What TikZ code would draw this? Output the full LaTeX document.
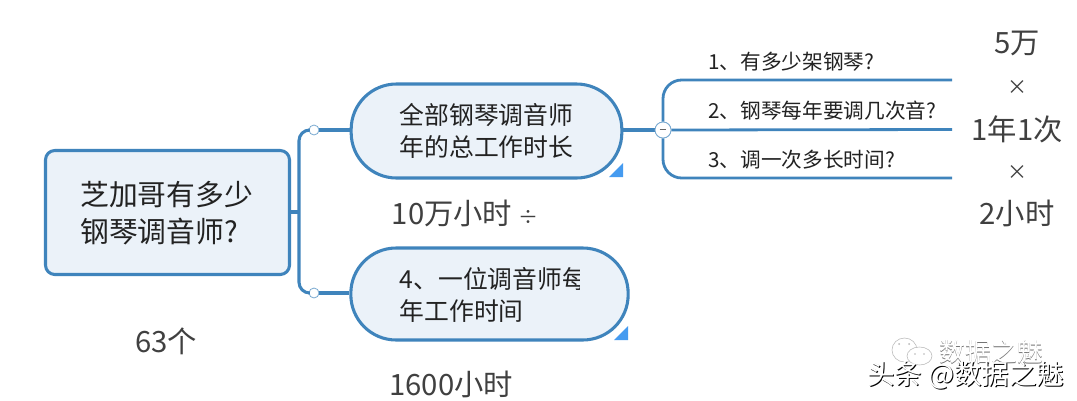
\documentclass[tikz,border=0pt]{standalone}
\usepackage{fontspec}
\setmainfont{Noto Sans CJK SC}
\definecolor{mapline}{HTML}{3F84BC}
\definecolor{mapfill}{HTML}{EBF2F9}
\definecolor{mapmark}{HTML}{459BF0}
\definecolor{maptext}{HTML}{222222}
\definecolor{notetext}{HTML}{404040}
\tikzset{
  px/.style={x=0.75pt,y=-0.75pt},
  rootbox/.style={draw=mapline,fill=mapfill,line width=2.3pt,rounded corners=7pt,minimum width=183pt,minimum height=93pt,inner sep=0pt},
  topicbox/.style={draw=mapline,fill=mapfill,line width=2.3pt,rounded corners=34pt,inner sep=0pt},
  link/.style={draw=mapline,line width=2.3pt},
  leafline/.style={draw=mapline,line width=2.1pt},
  knob/.style={circle,draw=mapline!70,fill=white,line width=0.6pt,minimum size=7.5pt,inner sep=0pt},
  bigknob/.style={circle,draw=mapline!70,fill=white,line width=0.6pt,minimum size=12pt,inner sep=0pt},
  topictext/.style={text=maptext,inner sep=0pt,anchor=west},
  note/.style={text=notetext,inner sep=0pt,font=\fontsize{22}{24}\selectfont},
  timessign/.style={text=notetext,inner sep=0pt,font=\fontsize{15}{16}\selectfont},
  leaf/.style={text=maptext,inner sep=0pt,anchor=west,font=\fontsize{15.5}{18}\selectfont},
}
\begin{document}
\begin{tikzpicture}[px]
\useasboundingbox[fill=white] (0,0) rectangle (1077,400);

% central topic and the two main topics
\node[rootbox] (root) at (167.5,212.5) {};
\node[topicbox,minimum width=203pt,minimum height=70.5pt] (total) at (486.5,131) {};
\node[topicbox,minimum width=208pt,minimum height=69pt] (each) at (489.5,294) {};

% corner markers on the main topics
\fill[mapmark] (609,177) -- (623,177) -- (623,163) -- cycle;
\fill[mapmark] (614,340) -- (628,340) -- (628,326) -- cycle;

% branch knobs and coordinates
\coordinate (spine) at (299,212);
\node[knob] (upper) at (314,130) {};
\node[knob] (lower) at (314,293) {};
\node[bigknob] (fold) at (663,130) {};
\coordinate (leafa) at (952,80);
\coordinate (leafb) at (952,129.5);
\coordinate (leafc) at (952,178);

% connectors from the central topic
\draw[link] (root.east |- spine) -- (spine);
\draw[link,rounded corners=8pt] (upper.west) -- (upper.west -| spine) -- (lower.west -| spine) -- (lower.west);
\draw[link] (upper.east) -- (upper.east -| total.west);
\draw[link] (lower.east) -- (lower.east -| each.west);
\draw[link] (total.east |- fold) -- (fold.west);

% leaf underlines
\draw[leafline,rounded corners=14pt] (fold.north) -- (fold.north |- leafa) -- (leafa);
\draw[leafline,rounded corners=14pt] (fold.south) -- (fold.south |- leafc) -- (leafc);
\draw[leafline] (fold.east) -- (leafb);
\node[bigknob,font=\fontsize{9}{9}\selectfont,text=black!60] (foldcap) at (fold) {\rule[0.15em]{0.55em}{0.8pt}};

% topic texts
\node[topictext,align=left,font=\fontsize{21.6}{28}\selectfont] (roottext) at (80,213) {芝加哥有多少\\钢琴调音师?};
\node[topictext,align=left,font=\fontsize{18.6}{24.5}\selectfont] (totaltext) at (399.5,131) {全部钢琴调音师\\年的总工作时长};
\begin{scope}
  \clip (395,262) rectangle (579.5,296);
  \node[topictext,font=\fontsize{18.6}{24.5}\selectfont] (eachtop) at (399.5,278.5) {4、一位调音师每};
\end{scope}
\node[topictext,font=\fontsize{18.6}{24.5}\selectfont] (eachbot) at (399.5,311) {年工作时间};

% leaf texts
\node[leaf] (q1) at (708,62) {1、有多少架钢琴?};
\node[leaf] (q2) at (708,111) {2、钢琴每年要调几次音?};
\node[leaf] (q3) at (708,160) {3、调一次多长时间?};

% figures beside the map
\node[note] (n5) at (1017,43) {5万};
\node[timessign] (x1) at (1017,88) {×};
\node[note] (n1) at (1017,129) {1年1次};
\node[timessign] (x2) at (1017,173) {×};
\node[note] (n2) at (1017,213) {2小时};
\node[note,anchor=west] (hours) at (391.5,213) {10万小时 {\fontsize{15}{16}\selectfont ÷}};
\node[note,anchor=west] (work) at (389,384) {1600小时};
\node[note,anchor=west] (count) at (135,341) {63个};

% embossed credits at the lower right
\begin{scope}[draw=black!28,line width=0.4pt]
  \draw (904.5,350) ellipse (12.5 and 12);
  \draw[fill=white] (919.5,356) ellipse (12.5 and 9);
  \fill[black!28] (899,344) circle (1) (909,344) circle (1) (915,354) circle (0.9) (924,354) circle (0.9);
\end{scope}
\node[text=black!55,inner sep=0pt,anchor=west,font=\fontsize{19.5}{21}\selectfont] (wmb) at (939.7,352.7) {数据之魅};
\node[text=white,inner sep=0pt,anchor=west,font=\fontsize{19.5}{21}\selectfont] at (wmb.west) [xshift=-0.7pt,yshift=0.7pt] {数据之魅};
\node[text=black,inner sep=0pt,anchor=west,font=\fontsize{20.6}{22}\selectfont] (wma) at (868,375.8) {头条 @数据之魅};
\node[text=white,inner sep=0pt,anchor=west,font=\fontsize{20.6}{22}\selectfont] at (wma.west) [xshift=-0.7pt,yshift=0.7pt] {头条 @数据之魅};
\end{tikzpicture}
\end{document}
